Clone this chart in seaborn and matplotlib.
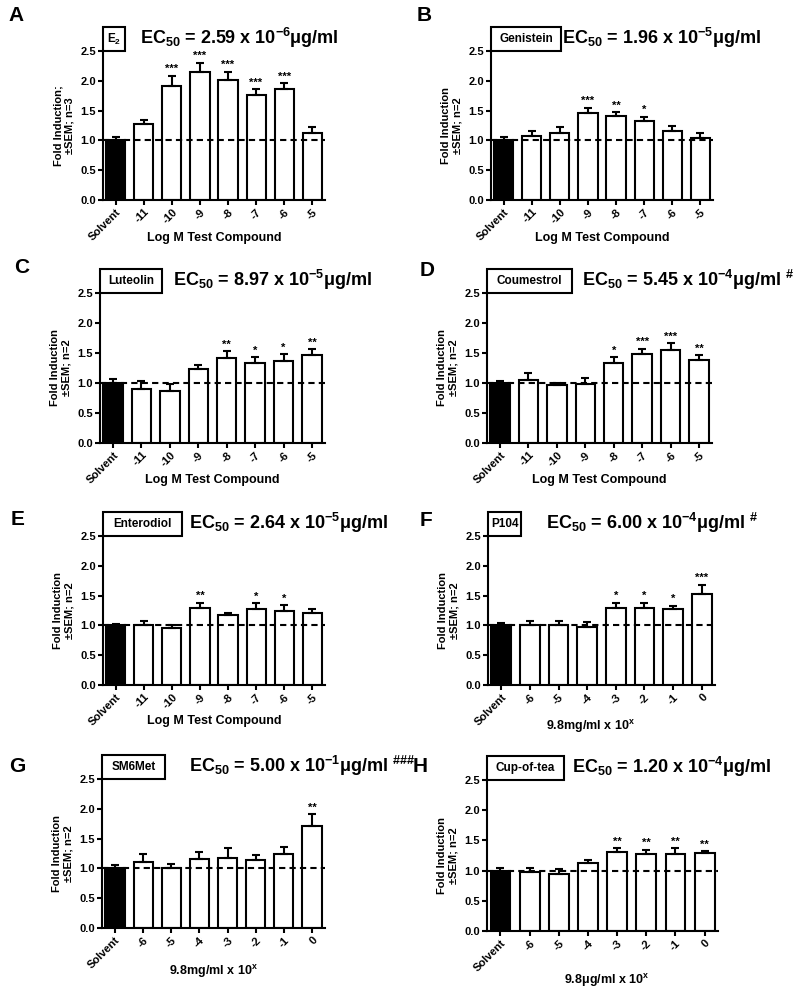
import numpy as np
import pandas as pd
import seaborn as sns
import matplotlib.pyplot as plt
from matplotlib.patches import Rectangle

# x categories
log_doses = ["Solvent", "-11", "-10", "-9", "-8", "-7", "-6", "-5"]
extract_doses = ["Solvent", "-6", "-5", "-4", "-3", "-2", "-1", "0"]

# fold induction (mean) and SEM
e2_mean = [1.00, 1.27, 1.91, 2.15, 2.02, 1.77, 1.86, 1.12]
e2_sem = [0.05, 0.07, 0.17, 0.15, 0.13, 0.09, 0.10, 0.10]
e2_stars = ["", "", "***", "***", "***", "***", "***", ""]

gen_mean = [1.00, 1.07, 1.13, 1.46, 1.41, 1.32, 1.15, 1.04]
gen_sem = [0.06, 0.08, 0.09, 0.09, 0.06, 0.08, 0.09, 0.09]
gen_stars = ["", "", "", "***", "**", "*", "", ""]

lut_mean = [1.00, 0.90, 0.87, 1.23, 1.41, 1.33, 1.37, 1.47]
lut_sem = [0.06, 0.13, 0.11, 0.07, 0.12, 0.10, 0.11, 0.09]
lut_stars = ["", "", "", "", "**", "*", "*", "**"]

cou_mean = [1.00, 1.05, 0.965, 0.98, 1.33, 1.48, 1.55, 1.38]
cou_sem = [0.03, 0.11, 0.035, 0.10, 0.10, 0.09, 0.11, 0.08]
cou_stars = ["", "", "", "", "*", "***", "***", "**"]

ent_mean = [1.00, 1.00, 0.955, 1.30, 1.17, 1.27, 1.245, 1.21]
ent_sem = [0.03, 0.08, 0.045, 0.08, 0.03, 0.10, 0.09, 0.07]
ent_stars = ["", "", "", "**", "", "*", "*", ""]

p104_mean = [1.00, 1.01, 1.01, 0.98, 1.30, 1.30, 1.28, 1.535]
p104_sem = [0.04, 0.07, 0.07, 0.08, 0.08, 0.08, 0.05, 0.145]
p104_stars = ["", "", "", "", "*", "*", "*", "***"]

sm6_mean = [1.01, 1.10, 1.00, 1.16, 1.18, 1.14, 1.25, 1.71]
sm6_sem = [0.05, 0.15, 0.07, 0.11, 0.16, 0.08, 0.11, 0.20]
sm6_stars = ["", "", "", "", "", "", "", "**"]

tea_mean = [1.00, 0.98, 0.95, 1.12, 1.30, 1.28, 1.28, 1.29]
tea_sem = [0.05, 0.07, 0.07, 0.06, 0.07, 0.06, 0.09, 0.03]
tea_stars = ["", "", "", "", "**", "**", "**", "**"]

compounds = ["E$_2$", "Genistein", "Luteolin", "Coumestrol",
             "Enterodiol", "P104", "SM6Met", "Cup-of-tea"]
ec50_labels = [
    "EC$_{50}$ = 2.59 x 10$^{-6}$μg/ml",
    "EC$_{50}$ = 1.96 x 10$^{-5}$μg/ml",
    "EC$_{50}$ = 8.97 x 10$^{-5}$μg/ml",
    "EC$_{50}$ = 5.45 x 10$^{-4}$μg/ml $^{\\#}$",
    "EC$_{50}$ = 2.64 x 10$^{-5}$μg/ml",
    "EC$_{50}$ = 6.00 x 10$^{-4}$μg/ml $^{\\#}$",
    "EC$_{50}$ = 5.00 x 10$^{-1}$μg/ml $^{\\#\\#\\#}$",
    "EC$_{50}$ = 1.20 x 10$^{-4}$μg/ml",
]
ylabels = ["Fold Induction;\n±SEM; n=3"] + ["Fold Induction\n±SEM; n=2"] * 7
xlabels = ["Log M Test Compound"] * 5 + ["9.8mg/ml x 10$^{x}$", "9.8mg/ml x 10$^{x}$",
                                          "9.8μg/ml x 10$^{x}$"]
letters = list("ABCDEFGH")

panels = [
    (log_doses, e2_mean, e2_sem, e2_stars),
    (log_doses, gen_mean, gen_sem, gen_stars),
    (log_doses, lut_mean, lut_sem, lut_stars),
    (log_doses, cou_mean, cou_sem, cou_stars),
    (log_doses, ent_mean, ent_sem, ent_stars),
    (extract_doses, p104_mean, p104_sem, p104_stars),
    (extract_doses, sm6_mean, sm6_sem, sm6_stars),
    (extract_doses, tea_mean, tea_sem, tea_stars),
]

# layout in pixels: (left, right, top, bottom) of each axes
W, H = 798, 990
rects = [(103, 325, 51, 200), (491, 713, 51, 200),
         (100, 325, 293, 443), (487, 712, 293, 443),
         (103, 325, 536, 685), (488, 715, 536, 685),
         (102, 325, 779, 928), (487, 718, 780, 931)]
box_w = [22, 70, 62, 85, 79, 33, 63, 77]
title_x = [140, 562, 173, 582, 189, 546, 189, 572]
letter_xy = [(8, 6), (417, 6), (14, 258), (420, 261), (11, 510), (420, 511), (9, 757), (413, 757)]
xlab_y = [-0.215, -0.215, -0.21, -0.21, -0.2, -0.22, -0.235, -0.27]
xlab_x = [0.5, 0.5, 0.5, 0.5, 0.5, 0.45, 0.5, 0.52]

sns.set_style("ticks")
plt.rcParams['font.family'] = ['Liberation Sans', 'DejaVu Sans']
plt.rcParams['font.weight'] = 'bold'
plt.rcParams['axes.labelweight'] = 'bold'
plt.rcParams['mathtext.default'] = 'regular'
for key in ['text.color', 'axes.labelcolor', 'xtick.color', 'ytick.color', 'axes.edgecolor']:
    plt.rcParams[key] = 'black'

fig = plt.figure(figsize=(7.98, 9.9), dpi=100)

for i, (doses, mean, sem, stars) in enumerate(panels):
    l, r, t, b = rects[i]
    ax = fig.add_axes([l / W, 1 - b / H, (r - l) / W, (b - t) / H])
    df = pd.DataFrame({"dose": doses, "fold": mean})
    colors = ["black"] + ["white"] * (len(doses) - 1)
    sns.barplot(data=df, x="dose", y="fold", hue="dose", palette=colors, legend=False,
                width=0.68, edgecolor="black", linewidth=1.5, ax=ax)
    xs = np.arange(len(doses))
    ax.errorbar(xs, mean, yerr=[np.zeros(len(doses)), sem], fmt="none", ecolor="black",
                elinewidth=1.5, capsize=3, capthick=1.5, zorder=4)
    for x, m, s, st in zip(xs, mean, sem, stars):
        if st:
            ax.text(x, m + s + 0.03, st, ha="center", va="bottom", fontsize=8)
    ax.axhline(1.0, color="black", ls=(0, (3, 2)), lw=1.5, zorder=5)

    ax.set_ylim(0, 2.5)
    ax.set_xlim(-0.46, len(doses) - 0.54)
    ax.set_yticks(np.arange(0, 2.51, 0.5))
    ax.yaxis.set_major_formatter('{x:.1f}')
    sns.despine(ax=ax)
    for sp in ["left", "bottom"]:
        ax.spines[sp].set_linewidth(1.5)
    ax.tick_params(width=1.5, length=3.5, labelsize=8, pad=1.5)
    plt.setp(ax.get_xticklabels(), rotation=45, ha="right", rotation_mode="anchor")
    ax.set_ylabel(ylabels[i], fontsize=8, labelpad=4)
    ax.set_xlabel(xlabels[i], fontsize=9)
    ax.xaxis.set_label_coords(xlab_x[i], xlab_y[i])

    # compound name box sitting on top of the y axis
    aw, ah = r - l, b - t
    ax.add_patch(Rectangle((0, 1.0), box_w[i] / aw, 24 / ah, transform=ax.transAxes,
                           fc="white", ec="black", lw=1.5, clip_on=False, zorder=6))
    ax.text(box_w[i] / aw / 2, 1.0 + 12 / ah, compounds[i], transform=ax.transAxes,
            ha="center", va="center", fontsize=8.5, zorder=7)
    ax.text((title_x[i] - l) / aw, 1.045, ec50_labels[i], transform=ax.transAxes,
            ha="left", va="baseline", fontsize=13)

    fig.text(letter_xy[i][0] / W, 1 - letter_xy[i][1] / H, letters[i],
             fontsize=15, ha="left", va="top")

fig.savefig("out.png", dpi=100)
